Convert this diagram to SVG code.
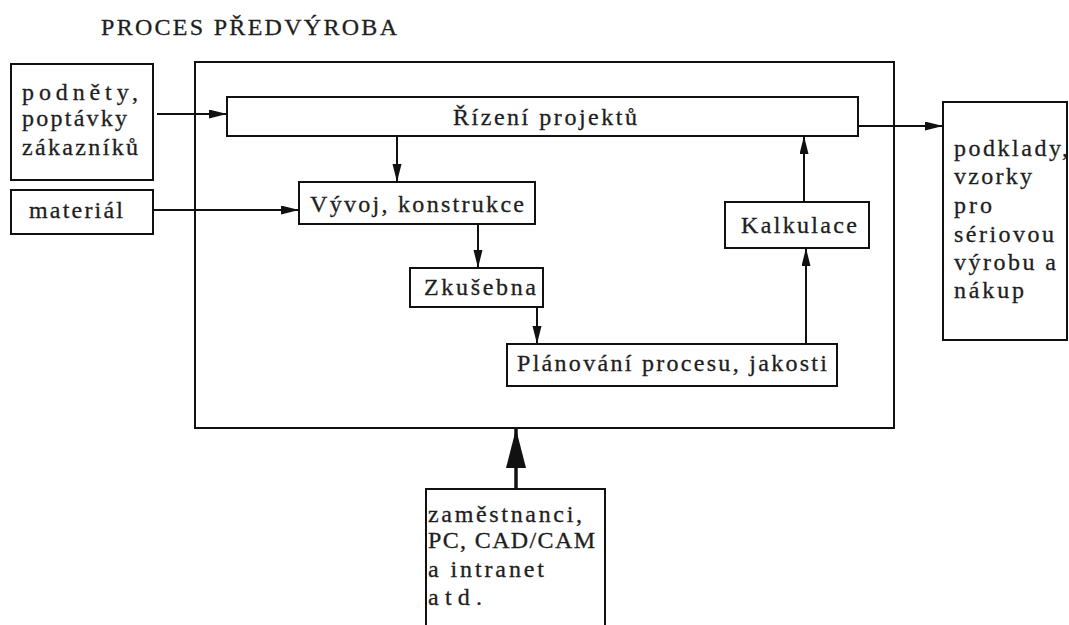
<svg xmlns="http://www.w3.org/2000/svg" width="1069" height="625" viewBox="0 0 1069 625">
  <style>
    .box { fill: #fff; stroke: #111; stroke-width: 2; }
    .frame { fill: none; stroke: #111; stroke-width: 2; }
    .t, .title { font-family: "Liberation Serif", "Times New Roman", serif; font-size: 24px; fill: #1e1e1e; stroke: #1e1e1e; stroke-width: 0.3; }
    .link { stroke: #111; stroke-width: 2; fill: none; marker-end: url(#arrow); }
    .bold { stroke: #111; stroke-width: 3.5; fill: none; marker-end: url(#bigArrow); }
  </style>
  <defs>
    <marker id="arrow" markerUnits="userSpaceOnUse" markerWidth="20" markerHeight="10" refX="18" refY="4.5" orient="auto">
      <path d="M0,0 L18,4.5 L0,9 Z" fill="#111"/>
    </marker>
    <marker id="bigArrow" markerUnits="userSpaceOnUse" markerWidth="40" markerHeight="22" refX="39" refY="10" orient="auto">
      <path d="M0,0 L39,10 L0,20 Z" fill="#111"/>
    </marker>
  </defs>

  <rect width="1069" height="625" fill="#fff"/>

  <text id="title" class="title" x="101" y="35" textLength="296" lengthAdjust="spacing">PROCES PŘEDVÝROBA</text>

  <!-- process boundary -->
  <rect id="process" class="frame" x="195" y="62" width="699" height="366"/>

  <g id="podnety">
    <rect class="box" x="11" y="64" width="142" height="116"/>
    <text class="t" x="22" y="100" textLength="116" lengthAdjust="spacing">podněty,</text>
    <text class="t" x="22" y="126" textLength="105" lengthAdjust="spacing">poptávky</text>
    <text class="t" x="22" y="155" textLength="116" lengthAdjust="spacing">zákazníků</text>
  </g>

  <g id="material">
    <rect class="box" x="11" y="190" width="142" height="44"/>
    <text class="t" x="29" y="218" textLength="94" lengthAdjust="spacing">materiál</text>
  </g>

  <g id="rizeni">
    <rect class="box" x="227" y="97" width="631" height="39"/>
    <text class="t" x="453" y="125" textLength="184" lengthAdjust="spacing">Řízení projektů</text>
  </g>

  <g id="vyvoj">
    <rect class="box" x="299" y="182" width="236" height="42"/>
    <text class="t" x="310" y="212" textLength="214" lengthAdjust="spacing">Vývoj, konstrukce</text>
  </g>

  <g id="zkusebna">
    <rect class="box" x="410" y="268" width="133" height="39"/>
    <text class="t" x="424" y="295" textLength="112" lengthAdjust="spacing">Zkušebna</text>
  </g>

  <g id="planovani">
    <rect class="box" x="507" y="344" width="330" height="42"/>
    <text class="t" x="517" y="371" textLength="310" lengthAdjust="spacing">Plánování procesu, jakosti</text>
  </g>

  <g id="kalkulace">
    <rect class="box" x="725" y="202" width="144" height="46"/>
    <text class="t" x="741" y="233" textLength="116" lengthAdjust="spacing">Kalkulace</text>
  </g>

  <g id="podklady">
    <rect class="box" x="943" y="102" width="124" height="238"/>
    <text class="t" x="954" y="156" textLength="114" lengthAdjust="spacing">podklady,</text>
    <text class="t" x="954" y="184" textLength="78" lengthAdjust="spacing">vzorky</text>
    <text class="t" x="954" y="213" textLength="38" lengthAdjust="spacing">pro</text>
    <text class="t" x="954" y="242" textLength="100" lengthAdjust="spacing">sériovou</text>
    <text class="t" x="954" y="270" textLength="102" lengthAdjust="spacing">výrobu a</text>
    <text class="t" x="954" y="298" textLength="70" lengthAdjust="spacing">nákup</text>
  </g>

  <g id="zdroje">
    <rect class="box" x="426" y="489" width="179" height="160"/>
    <text class="t" x="428" y="522" textLength="154" lengthAdjust="spacing">zaměstnanci,</text>
    <text class="t" x="428" y="548" textLength="167" lengthAdjust="spacing">PC, CAD/CAM</text>
    <text class="t" x="428" y="577" textLength="116" lengthAdjust="spacing">a intranet</text>
    <text class="t" x="428" y="605" textLength="54" lengthAdjust="spacing">atd.</text>
  </g>

  <g id="connectors">
    <line class="link" x1="157" y1="114" x2="227" y2="114"/>
    <line class="link" x1="153" y1="210" x2="299" y2="210"/>
    <line class="link" x1="397" y1="136" x2="397" y2="182"/>
    <line class="link" x1="478" y1="224" x2="478" y2="268"/>
    <line class="link" x1="537" y1="307" x2="537" y2="344"/>
    <line class="link" x1="806" y1="344" x2="806" y2="248"/>
    <line class="link" x1="804" y1="202" x2="804" y2="136"/>
    <line class="link" x1="858" y1="126" x2="943" y2="126"/>
    <line class="bold" x1="516" y1="489" x2="516" y2="429"/>
  </g>
</svg>
